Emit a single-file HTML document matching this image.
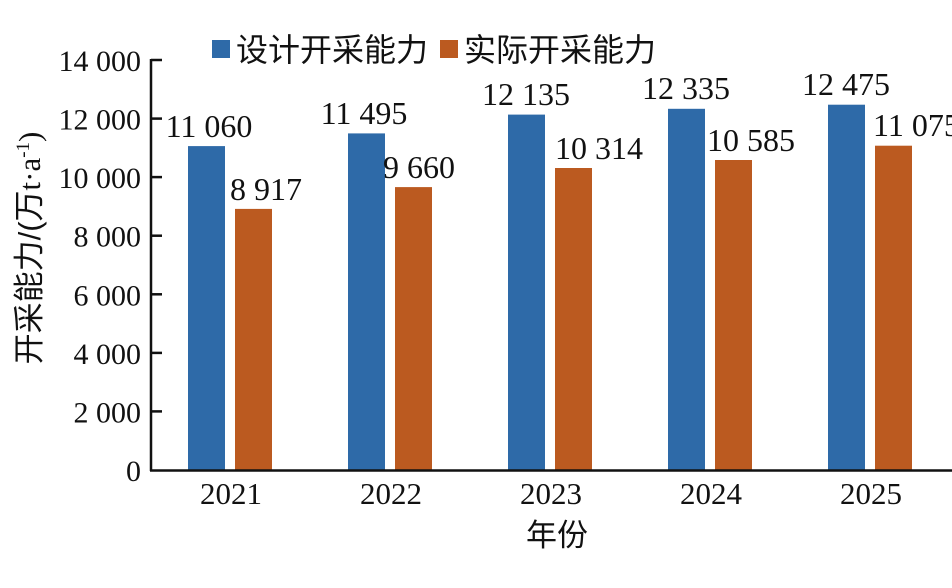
<!DOCTYPE html>
<html><head><meta charset="utf-8"><style>
html,body{margin:0;padding:0;background:#fff;}
svg{display:block;}
text{font-family:"Liberation Serif","Noto Serif CJK SC",serif;fill:#111;}
.c{font-family:"Liberation Sans","Noto Sans CJK SC",sans-serif;}
</style></head><body>
<svg width="952" height="588" viewBox="0 0 952 588" xmlns="http://www.w3.org/2000/svg">
<rect x="212" y="40" width="18" height="18" fill="#2e6aa8"/>
<text x="236" y="61" font-size="32" class="c">设计开采能力</text>
<rect x="440" y="40" width="18" height="18" fill="#bb5a20"/>
<text x="464" y="61" font-size="32" class="c">实际开采能力</text>

<g fill="#2e6aa8">
<rect x="188" y="146.1" width="37" height="323.9"/>
<rect x="348" y="133.4" width="37" height="336.6"/>
<rect x="508" y="114.6" width="37" height="355.4"/>
<rect x="668" y="108.8" width="37" height="361.2"/>
<rect x="828" y="104.7" width="37" height="365.3"/>
</g>
<g fill="#bb5a20">
<rect x="235" y="208.9" width="37" height="261.1"/>
<rect x="395" y="187.1" width="37" height="282.9"/>
<rect x="555" y="168.0" width="37" height="302.0"/>
<rect x="715" y="160.0" width="37" height="310.0"/>
<rect x="875" y="145.7" width="37" height="324.3"/>
</g>

<g stroke="#111" stroke-width="2.5" fill="none">
<line x1="151" y1="59" x2="151" y2="471"/>
<line x1="150" y1="470.5" x2="952" y2="470.5"/>
<line x1="151" y1="60" x2="162" y2="60"/>
<line x1="151" y1="118.6" x2="162" y2="118.6"/>
<line x1="151" y1="177.1" x2="162" y2="177.1"/>
<line x1="151" y1="235.7" x2="162" y2="235.7"/>
<line x1="151" y1="294.3" x2="162" y2="294.3"/>
<line x1="151" y1="352.9" x2="162" y2="352.9"/>
<line x1="151" y1="411.4" x2="162" y2="411.4"/>
</g>

<g font-size="30" text-anchor="end">
<text x="141" y="71">14 000</text>
<text x="141" y="129.6">12 000</text>
<text x="141" y="188.1">10 000</text>
<text x="141" y="246.7">8 000</text>
<text x="141" y="305.3">6 000</text>
<text x="141" y="363.9">4 000</text>
<text x="141" y="422.4">2 000</text>
<text x="141" y="481">0</text>
</g>

<g font-size="31" text-anchor="middle">
<text x="231" y="504">2021</text>
<text x="391" y="504">2022</text>
<text x="551" y="504">2023</text>
<text x="711" y="504">2024</text>
<text x="871" y="504">2025</text>
</g>
<text x="557" y="546" font-size="31" text-anchor="middle" class="c">年份</text>

<g font-size="32" text-anchor="middle">
<text x="209" y="137">11 060</text>
<text x="364" y="124">11 495</text>
<text x="526" y="105">12 135</text>
<text x="686" y="99">12 335</text>
<text x="846" y="95">12 475</text>
</g>
<g font-size="32" text-anchor="start">
<text x="230" y="200">8 917</text>
<text x="383" y="178">9 660</text>
<text x="555" y="159">10 314</text>
<text x="707" y="151">10 585</text>
<text x="873" y="136">11 075</text>
</g>

<text transform="translate(40,248) rotate(-90)" font-size="31" text-anchor="middle"><tspan class="c">开采能力/(万</tspan>t·a<tspan font-size="19" dy="-11">-1</tspan><tspan dy="11">)</tspan></text>
</svg>
</body></html>
